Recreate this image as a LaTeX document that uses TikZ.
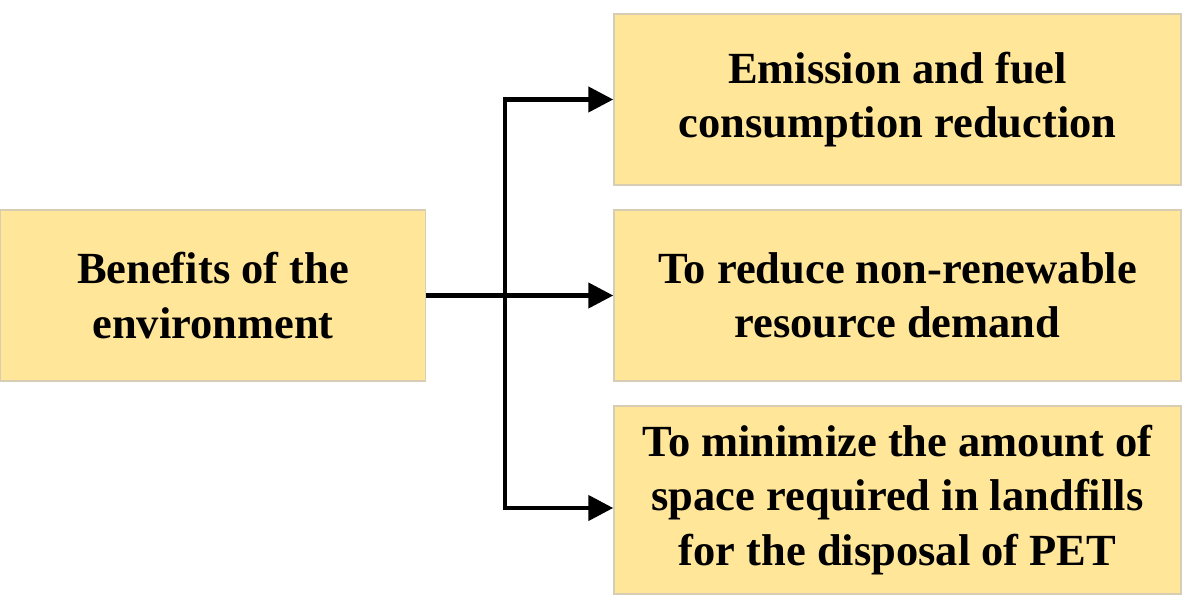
\documentclass[tikz,border=0pt]{standalone}
\usepackage{fontspec}
\setmainfont{Liberation Serif}
\usetikzlibrary{arrows.meta}
\definecolor{boxfill}{HTML}{FFE699}
\definecolor{boxline}{HTML}{D6CDB4}
\begin{document}
\begin{tikzpicture}[x=1pt,y=-1pt,
  box/.style={draw=boxline,line width=1.5pt,fill=boxfill,inner sep=0pt,align=center,
    font=\fontsize{44.5}{54.5}\selectfont\bfseries},
  conn/.style={line width=4.5pt,-{Triangle[length=25pt,width=25pt]}}]
\useasboundingbox (0,0) rectangle (1184,596);
\node[box,minimum width=425pt,minimum height=171pt] (src) at (213,295.5) {\rule{0pt}{4pt}Benefits of the\\environment};
\node[box,minimum width=567pt,minimum height=171pt] (b1) at (897.5,99.5) {Emission and fuel\\consumption reduction};
\node[box,minimum width=567pt,minimum height=171pt] (b2) at (897.5,295.5) {To reduce non-renewable\\resource demand};
\node[box,minimum width=567pt,minimum height=188pt] (b3) at (897.5,500) {To minimize the amount of\\space required in landfills\\for the disposal of PET};
\coordinate (j) at (505,296);
\draw[line width=4.5pt] (j |- b1.west) -- (j |- 0,508);
\draw[conn] (src.east) -- (b2.west);
\draw[conn] ([xshift=-2.25pt]j |- b1.west) -- (b1.west);
\draw[conn] ([xshift=-2.25pt]j |- 0,508) -- (b3.west |- 0,508);
\end{tikzpicture}
\end{document}
